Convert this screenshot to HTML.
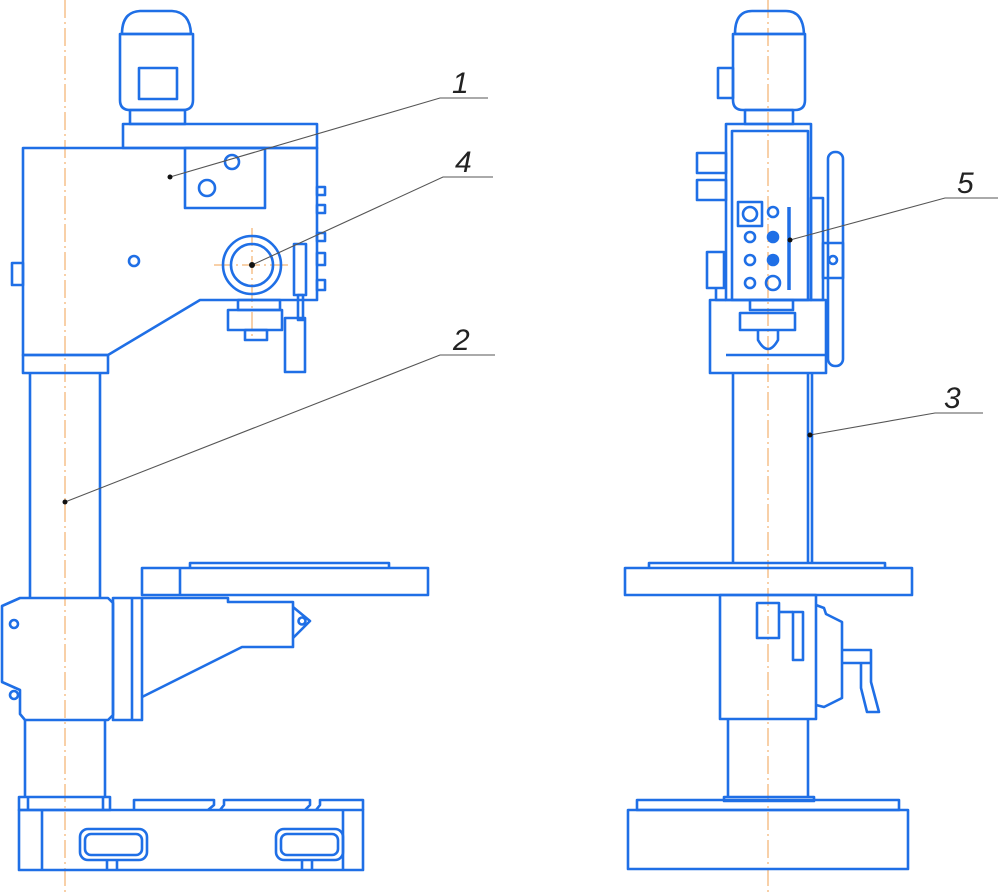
<!DOCTYPE html>
<html><head><style>body{margin:0;background:#fff}svg{display:block}</style></head><body>
<svg width="1000" height="892" viewBox="0 0 1000 892" xmlns="http://www.w3.org/2000/svg">
<g fill="none" stroke="#f0a050" stroke-width="1" stroke-dasharray="18,4,2,4">
<line x1="65" y1="0" x2="65" y2="892"/><line x1="768" y1="0" x2="768" y2="892"/>
<line x1="214" y1="265" x2="290" y2="265"/><line x1="252" y1="228" x2="252" y2="340"/>
</g>
<g fill="none" stroke="#1f6fe6" stroke-width="2.6" stroke-linejoin="round">
<!-- LEFT MACHINE -->
<path d="M122,34 Q122,12 140,11 L172,11 Q190,12 191,34 Z"/>
<path d="M120,34 H193 V100 Q193,110 183,110 H130 Q120,110 120,100 Z"/>
<rect x="139" y="68" width="38" height="31"/>
<rect x="130" y="110" width="55" height="14"/>
<rect x="123" y="124" width="194" height="24"/>
<path d="M23,148 H317 V300 H200 L108,355 H23 Z"/>
<rect x="23" y="355" width="85" height="18"/>
<rect x="185" y="148" width="80" height="60"/>
<circle cx="232" cy="162" r="7"/><circle cx="207" cy="188" r="8"/>
<circle cx="134" cy="261" r="5"/>
<circle cx="252" cy="265" r="29"/><circle cx="252" cy="265" r="21"/>
<rect x="317" y="187" width="8" height="8"/><rect x="317" y="205" width="8" height="8"/>
<rect x="317" y="233" width="8" height="8"/><rect x="317" y="253" width="8" height="12"/>
<rect x="317" y="280" width="8" height="10"/>
<rect x="12" y="263" width="11" height="22"/>
<rect x="294" y="244" width="12" height="51"/><rect x="298" y="295" width="5" height="25"/>
<rect x="285" y="318" width="20" height="54"/>
<rect x="238" y="300" width="42" height="10"/><rect x="228" y="310" width="54" height="20"/>
<rect x="245" y="330" width="22" height="10"/>
<path d="M30,373 V597 M100,373 V597"/>
<path d="M22,598 H108 L113,603 V715 L108,720 H25 L20,714 V690 L2,682 V606 L20,598 Z"/>
<circle cx="14" cy="624" r="4"/><circle cx="14" cy="695" r="4"/>
<rect x="113" y="598" width="29" height="122"/><line x1="132" y1="598" x2="132" y2="720"/>
<rect x="142" y="568" width="286" height="27"/><line x1="180" y1="568" x2="180" y2="595"/>
<path d="M190,568 V563 H389 V568"/>
<path d="M142,598 H228 V602 H293 V647 H242 L142,697"/>
<path d="M293,607 L310,621 L293,638"/><circle cx="302" cy="621" r="3.5"/>
<path d="M25,720 V797 M105,720 V797"/>
<rect x="19" y="797" width="91" height="13"/><path d="M28,797 V810 M103,797 V810"/>
<rect x="19" y="810" width="344" height="60"/><path d="M42,810 V870 M343,810 V870"/>
<path d="M134,810 V800 H214 V805 L208,810 M220,810 L224,805 V800 H310 V805 L305,810 M316,810 L320,805 V800 H363 V810"/>
<rect x="80" y="829" width="67" height="31" rx="8"/><rect x="85" y="834" width="57" height="21" rx="6"/>
<path d="M107,860 V870 M117,860 V870"/>
<rect x="276" y="829" width="67" height="31" rx="8"/><rect x="281" y="834" width="57" height="21" rx="6"/>
<path d="M302,860 V870 M312,860 V870"/>
<!-- RIGHT MACHINE -->
<path d="M735,34 Q735,11 752,11 L786,11 Q803,11 804,34 Z"/>
<path d="M733,34 H805 V100 Q805,110 795,110 H743 Q733,110 733,100 Z"/>
<rect x="718" y="68" width="15" height="30"/>
<rect x="745" y="110" width="48" height="14"/>
<rect x="726" y="124" width="85" height="176"/>
<rect x="732" y="131" width="76" height="169"/>
<rect x="697" y="153" width="29" height="20"/><rect x="697" y="180" width="29" height="20"/>
<rect x="738" y="202" width="24" height="24"/><circle cx="750" cy="214" r="7"/>
<circle cx="773" cy="212" r="5"/><circle cx="750" cy="237" r="5"/><circle cx="773" cy="237" r="5" fill="#1f6fe6"/>
<circle cx="750" cy="260" r="5"/><circle cx="773" cy="260" r="5" fill="#1f6fe6"/>
<circle cx="750" cy="283" r="5"/><circle cx="773" cy="283" r="7"/>
<line x1="789" y1="207" x2="789" y2="290" stroke-width="3.5"/>
<rect x="811" y="198" width="12" height="102"/>
<rect x="828" y="152" width="15" height="214" rx="7"/>
<rect x="823" y="243" width="20" height="35"/><circle cx="833" cy="260" r="4"/>
<rect x="707" y="252" width="17" height="36"/>
<path d="M716,288 V300 H726"/>
<rect x="710" y="300" width="116" height="73"/>
<line x1="726" y1="355" x2="826" y2="355"/>
<rect x="750" y="300" width="43" height="10"/>
<rect x="740" y="313" width="55" height="17"/>
<path d="M758,330 V340 Q768,358 778,340 V330"/>
<path d="M733,373 V563 M808,373 V563 M812,373 V563"/>
<rect x="625" y="568" width="287" height="27"/>
<path d="M649,568 V563 H885 V568"/>
<rect x="720" y="595" width="96" height="124"/>
<rect x="757" y="603" width="22" height="35"/><rect x="793" y="612" width="10" height="48"/>
<path d="M779,612 H793"/>
<path d="M816,605 L824,608 L826,614 L842,622 V698 L824,707 L816,705"/>
<path d="M842,650 H871 V663 H842 M871,663 V682 L879,712 H867 L861,688 V663"/>
<path d="M728,719 V797 M808,719 V797"/>
<rect x="724" y="797" width="90" height="4"/>
<rect x="637" y="800" width="262" height="10"/>
<rect x="628" y="810" width="280" height="59"/>
</g>
<!-- leaders -->
<g fill="none" stroke="#555" stroke-width="1.1">
<path d="M170,177 L440,98 H488"/>
<path d="M252,265 L443,177 H493"/>
<path d="M65,502 L440,355 H495"/>
<path d="M790,240 L945,198 H998"/>
<path d="M810,435 L935,413 H983"/>
</g>
<g fill="#111"><circle cx="170" cy="177" r="2.5"/><circle cx="252" cy="265" r="3"/><circle cx="65" cy="502" r="2.5"/><circle cx="790" cy="240" r="2.5"/><circle cx="810" cy="435" r="2.5"/></g>
<g font-family="Liberation Sans, sans-serif" font-style="italic" font-size="30" fill="#222">
<text x="452" y="93">1</text><text x="455" y="172">4</text><text x="453" y="350">2</text>
<text x="957" y="193">5</text><text x="944" y="408">3</text>
</g>
</svg>
</body></html>
